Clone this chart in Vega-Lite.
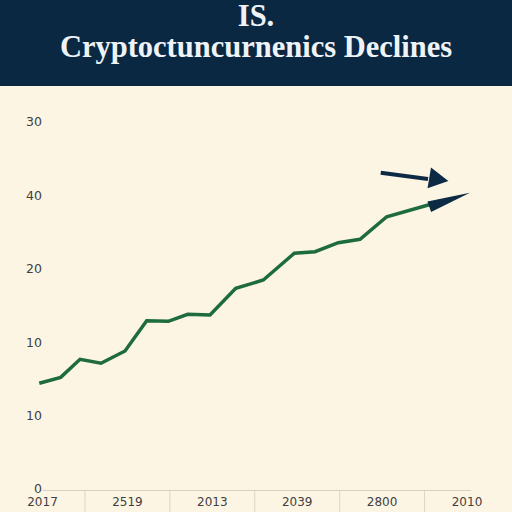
{
  "$schema": "https://vega.github.io/schema/vega-lite/v6.json",
  "background": "#fdf5e4",
  "padding": 0,
  "spacing": 0,
  "config": {"view": {"stroke": null}},
  "vconcat": [
    {
      "width": 512,
      "height": 86,
      "view": {"fill": "#0b2843", "stroke": null},
      "data": {"values": [{"title": "IS."}]},
      "mark": {
        "type": "text",
        "font": "Liberation Serif",
        "fontWeight": "bold",
        "fontSize": 30.5,
        "color": "#eef3f8",
        "lineHeight": 31,
        "align": "center",
        "baseline": "middle",
        "dy": -26
      },
      "encoding": {
        "text": {"value": ["IS.", "Cryptoctuncurnenics Declines"]}
      }
    },
    {
      "width": 512,
      "height": 426,
      "layer": [
        {
          "data": {"values": [{"x": 0.5}, {"x": 1.5}, {"x": 2.5}, {"x": 3.5}, {"x": 4.5}]},
          "mark": {"type": "rule", "color": "#dcd5c5", "strokeWidth": 1},
          "encoding": {
            "x": {"field": "x", "type": "quantitative", "scale": {"domain": [-0.5006, 5.53], "nice": false, "zero": false}, "axis": null},
            "y": {"datum": 0, "type": "quantitative", "scale": {"domain": [-2.93, 55.08], "nice": false, "zero": false}, "axis": null},
            "y2": {"datum": -2.93}
          }
        },
        {
          "data": {"values": [{"from": 0, "to": 5.05}]},
          "mark": {"type": "rule", "color": "#d8d1c1", "strokeWidth": 1},
          "encoding": {
            "x": {"field": "from", "type": "quantitative", "scale": {"domain": [-0.5006, 5.53], "nice": false, "zero": false}, "axis": null},
            "x2": {"field": "to"},
            "y": {"datum": 0, "type": "quantitative", "scale": {"domain": [-2.93, 55.08], "nice": false, "zero": false}, "axis": null}
          }
        },
        {
          "data": {
            "values": [
              {"pos": 0, "label": "2017"},
              {"pos": 1, "label": "2519"},
              {"pos": 2, "label": "2013"},
              {"pos": 3, "label": "2039"},
              {"pos": 4, "label": "2800"},
              {"pos": 5, "label": "2010"}
            ]
          },
          "mark": {"type": "text", "font": "DejaVu Sans", "fontSize": 12, "color": "#404040", "align": "center", "baseline": "middle"},
          "encoding": {
            "x": {"field": "pos", "type": "quantitative", "scale": {"domain": [-0.5006, 5.53], "nice": false, "zero": false}, "axis": null},
            "y": {"datum": -1.62, "type": "quantitative", "scale": {"domain": [-2.93, 55.08], "nice": false, "zero": false}, "axis": null},
            "text": {"field": "label"}
          }
        },
        {
          "data": {
            "values": [
              {"v": 0, "label": "0"},
              {"v": 10, "label": "10"},
              {"v": 20, "label": "10"},
              {"v": 30, "label": "20"},
              {"v": 40, "label": "40"},
              {"v": 50, "label": "30"}
            ]
          },
          "mark": {"type": "text", "font": "DejaVu Sans", "fontSize": 12.5, "color": "#404040", "align": "right", "baseline": "middle", "dy": -1},
          "encoding": {
            "x": {"datum": -0.006, "type": "quantitative", "scale": {"domain": [-0.5006, 5.53], "nice": false, "zero": false}, "axis": null},
            "y": {"field": "v", "type": "quantitative", "scale": {"domain": [-2.93, 55.08], "nice": false, "zero": false}, "axis": null},
            "text": {"field": "label"}
          }
        },
        {
          "data": {
            "values": [
              {"t": -0.038, "v": 14.6},
              {"t": 0.214, "v": 15.41},
              {"t": 0.442, "v": 17.86},
              {"t": 0.689, "v": 17.32},
              {"t": 0.972, "v": 19.0},
              {"t": 1.227, "v": 23.12},
              {"t": 1.482, "v": 23.04},
              {"t": 1.71, "v": 23.99},
              {"t": 1.973, "v": 23.9},
              {"t": 2.276, "v": 27.53},
              {"t": 2.601, "v": 28.66},
              {"t": 2.966, "v": 32.3},
              {"t": 3.21, "v": 32.52},
              {"t": 3.484, "v": 33.74},
              {"t": 3.74, "v": 34.21},
              {"t": 4.054, "v": 37.28},
              {"t": 4.564, "v": 38.94}
            ]
          },
          "mark": {"type": "line", "color": "#1d6b3f", "strokeWidth": 3.5},
          "encoding": {
            "x": {"field": "t", "type": "quantitative", "scale": {"domain": [-0.5006, 5.53], "nice": false, "zero": false}, "axis": null},
            "y": {"field": "v", "type": "quantitative", "scale": {"domain": [-2.93, 55.08], "nice": false, "zero": false}, "axis": null}
          }
        },
        {
          "data": {"values": [{"x": 3.984, "y": 43.27, "x2": 4.541, "y2": 42.42}]},
          "mark": {"type": "rule", "color": "#0d2a45", "strokeWidth": 4},
          "encoding": {
            "x": {"field": "x", "type": "quantitative", "scale": {"domain": [-0.5006, 5.53], "nice": false, "zero": false}, "axis": null},
            "x2": {"field": "x2"},
            "y": {"field": "y", "type": "quantitative", "scale": {"domain": [-2.93, 55.08], "nice": false, "zero": false}, "axis": null},
            "y2": {"field": "y2"}
          }
        },
        {
          "data": {"values": [{"x": 4.668, "y": 42.36}]},
          "mark": {"type": "point", "shape": "M-0.88,-0.96L0.88,0L-0.88,0.96Z", "size": 484, "angle": 9.5, "filled": true, "color": "#0d2a45", "opacity": 1},
          "encoding": {
            "x": {"field": "x", "type": "quantitative", "scale": {"domain": [-0.5006, 5.53], "nice": false, "zero": false}, "axis": null},
            "y": {"field": "y", "type": "quantitative", "scale": {"domain": [-2.93, 55.08], "nice": false, "zero": false}, "axis": null}
          }
        },
        {
          "data": {"values": [{"x": 4.795, "y": 39.6}]},
          "mark": {"type": "point", "shape": "M-1,-0.26L1,0L-1,0.26Z", "size": 1849, "angle": 341, "filled": true, "color": "#0d2a45", "opacity": 1},
          "encoding": {
            "x": {"field": "x", "type": "quantitative", "scale": {"domain": [-0.5006, 5.53], "nice": false, "zero": false}, "axis": null},
            "y": {"field": "y", "type": "quantitative", "scale": {"domain": [-2.93, 55.08], "nice": false, "zero": false}, "axis": null}
          }
        }
      ]
    }
  ]
}
